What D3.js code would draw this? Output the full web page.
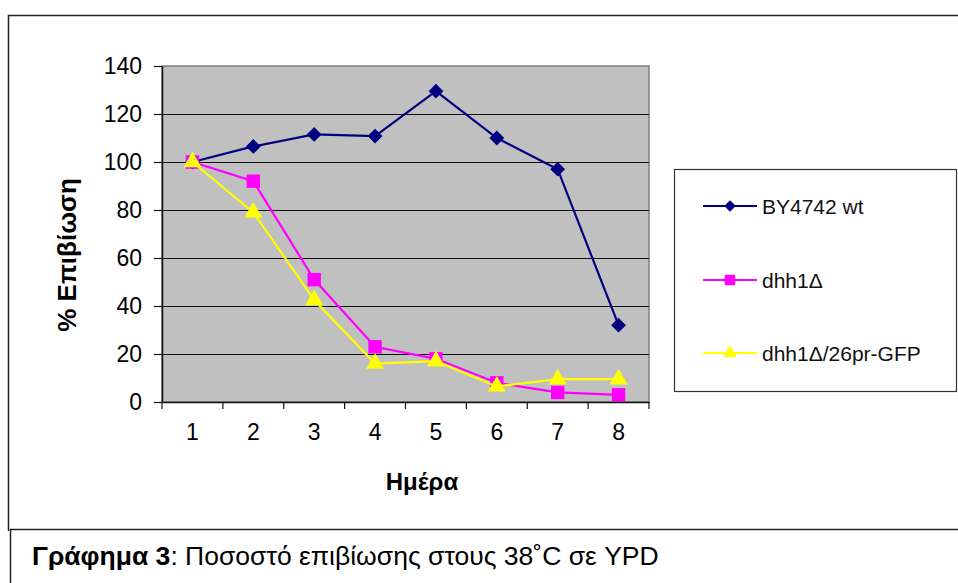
<!DOCTYPE html>
<html>
<head>
<meta charset="utf-8">
<script src="https://cdn.jsdelivr.net/npm/d3@7"></script>
<style>
  body { margin:0; background:#fff; }
  svg text { font-family: 'Liberation Sans', Arial, sans-serif; }
</style>
</head>
<body>
<div id="canvas"></div>
<script>
const days = ['1','2','3','4','5','6','7','8']
const wt = [100, 106.5, 111.5, 110.8, 129.5, 110, 97, 32]
const dhh1 = [100, 92, 51, 23, 18, 8, 4, 3]
const dhh1gfp = [100, 79, 42.5, 16, 17, 6.5, 9.5, 9.5]
const seriesNames = ['BY4742 wt', 'dhh1Δ', 'dhh1Δ/26pr-GFP']
const yTicks = [0, 20, 40, 60, 80, 100, 120, 140]

const width = 958, height = 583
const plot = {left:162, right:649, top:66, bottom:402}

const svg = d3.select('#canvas').append('svg')
  .attr('width', width).attr('height', height)

// outer frame
svg.append('path').attr('d', `M8.5,531 V15.5 H958`)
  .attr('fill','none').attr('stroke','#222').attr('stroke-width',1.5)
// caption box
svg.append('path').attr('d', `M10.5,583 V529.5 H958`)
  .attr('fill','none').attr('stroke','#222').attr('stroke-width',1.5)

let x = d3.scaleBand().domain(days).range([plot.left, plot.right])
let y = d3.scaleLinear().domain([0,140]).range([plot.bottom, plot.top])

let g = svg.append('g')

g.append('rect')
  .attr('x', plot.left).attr('y', plot.top)
  .attr('width', plot.right-plot.left).attr('height', plot.bottom-plot.top)
  .attr('fill','#c0c0c0').attr('stroke','#808080').attr('stroke-width',1.5)

// gridlines
g.selectAll('.grid').data(yTicks.filter(d=>d>0 && d<140)).enter()
  .append('line')
  .attr('x1', plot.left).attr('x2', plot.right)
  .attr('y1', d=>Math.round(y(d))+0.5).attr('y2', d=>Math.round(y(d))+0.5)
  .attr('stroke','#111').attr('stroke-width',1.2)

// y axis
let yAxis = svg.append('g')
  .attr('transform', `translate(${plot.left},0)`)
  .call(d3.axisLeft(y).tickValues(yTicks).tickSize(8).tickPadding(12).tickSizeOuter(0))
yAxis.select('.domain').attr('stroke','#111').attr('stroke-width',1.5)
yAxis.selectAll('.tick line').attr('stroke','#111').attr('stroke-width',1.2)
yAxis.selectAll('text').attr('font-size',23).attr('fill','#000')
  .attr('font-family',"'Liberation Sans', Arial, sans-serif")

// x axis with ticks between categories
let xAxis = svg.append('g')
  .attr('transform', `translate(0,${plot.bottom})`)
  .call(d3.axisBottom(x).tickSize(0).tickPadding(22))
xAxis.select('.domain').attr('stroke','#111').attr('stroke-width',1.5)
xAxis.selectAll('text').attr('font-size',23).attr('fill','#000')
  .attr('font-family',"'Liberation Sans', Arial, sans-serif")
xAxis.selectAll('.sep').data(days.concat(['end'])).enter()
  .append('line')
  .attr('x1', (d,i)=>i<days.length ? x(d) : plot.right)
  .attr('x2', (d,i)=>i<days.length ? x(d) : plot.right)
  .attr('y1',0).attr('y2',7).attr('stroke','#111').attr('stroke-width',1.2)

// axis titles
svg.append('text').text('% Επιβίωση')
  .attr('transform', `translate(76,255) rotate(-90)`)
  .attr('text-anchor','middle').attr('font-size',26).attr('font-weight','bold')
svg.append('text').text('Ημέρα')
  .attr('x', 422).attr('y', 490)
  .attr('text-anchor','middle').attr('font-size',24).attr('font-weight','bold')

const cx = d=>x(d)+x.bandwidth()/2
// diamond = square turned 45 degrees
const series = [
  {name:seriesNames[0], values:wt, color:'#000080', shape:d3.symbolSquare, size:110, rot:45},
  {name:seriesNames[1], values:dhh1, color:'#ff00ff', shape:d3.symbolSquare, size:180, rot:0},
  {name:seriesNames[2], values:dhh1gfp, color:'#ffff00', shape:d3.symbolTriangle, size:140, rot:0}
]

let line = d3.line().x((d,i)=>cx(days[i])).y(d=>y(d))

series.forEach(s=>{
  let sg = g.append('g')
  sg.append('path').datum(s.values)
    .attr('d', line).attr('fill','none')
    .attr('stroke', s.color).attr('stroke-width',2.2)
  sg.selectAll('path.m').data(s.values).enter()
    .append('path').attr('class','m')
    .attr('d', d3.symbol().type(s.shape).size(s.size))
    .attr('transform', (d,i)=>`translate(${cx(days[i])},${y(d)}) rotate(${s.rot})`)
    .attr('fill', s.color)
})

// legend
let leg = svg.append('g')
leg.append('rect').attr('x',674.5).attr('y',169.5).attr('width',282).attr('height',222)
  .attr('fill','#fff').attr('stroke','#333').attr('stroke-width',1.2)
const legY = [206, 280, 353]
series.forEach((s,i)=>{
  let lg = leg.append('g').attr('transform', `translate(0,${legY[i]})`)
  lg.append('line').attr('x1',703).attr('x2',757).attr('y1',0).attr('y2',0)
    .attr('stroke', s.color).attr('stroke-width',2.2)
  lg.append('path').attr('d', d3.symbol().type(s.shape).size(s.size*0.6))
    .attr('transform',`translate(730,0) rotate(${s.rot})`).attr('fill', s.color)
  lg.append('text').text(s.name).attr('x',762).attr('y',7.5)
    .attr('font-size',21).attr('fill','#111')
})

// caption
let cap = svg.append('text').attr('x',32).attr('y',565).attr('font-size',26.5)
cap.append('tspan').text('Γράφημα 3').attr('font-weight','bold')
cap.append('tspan').text(': Ποσοστό επιβίωσης στους 38˚C σε YPD')
</script>
</body>
</html>
